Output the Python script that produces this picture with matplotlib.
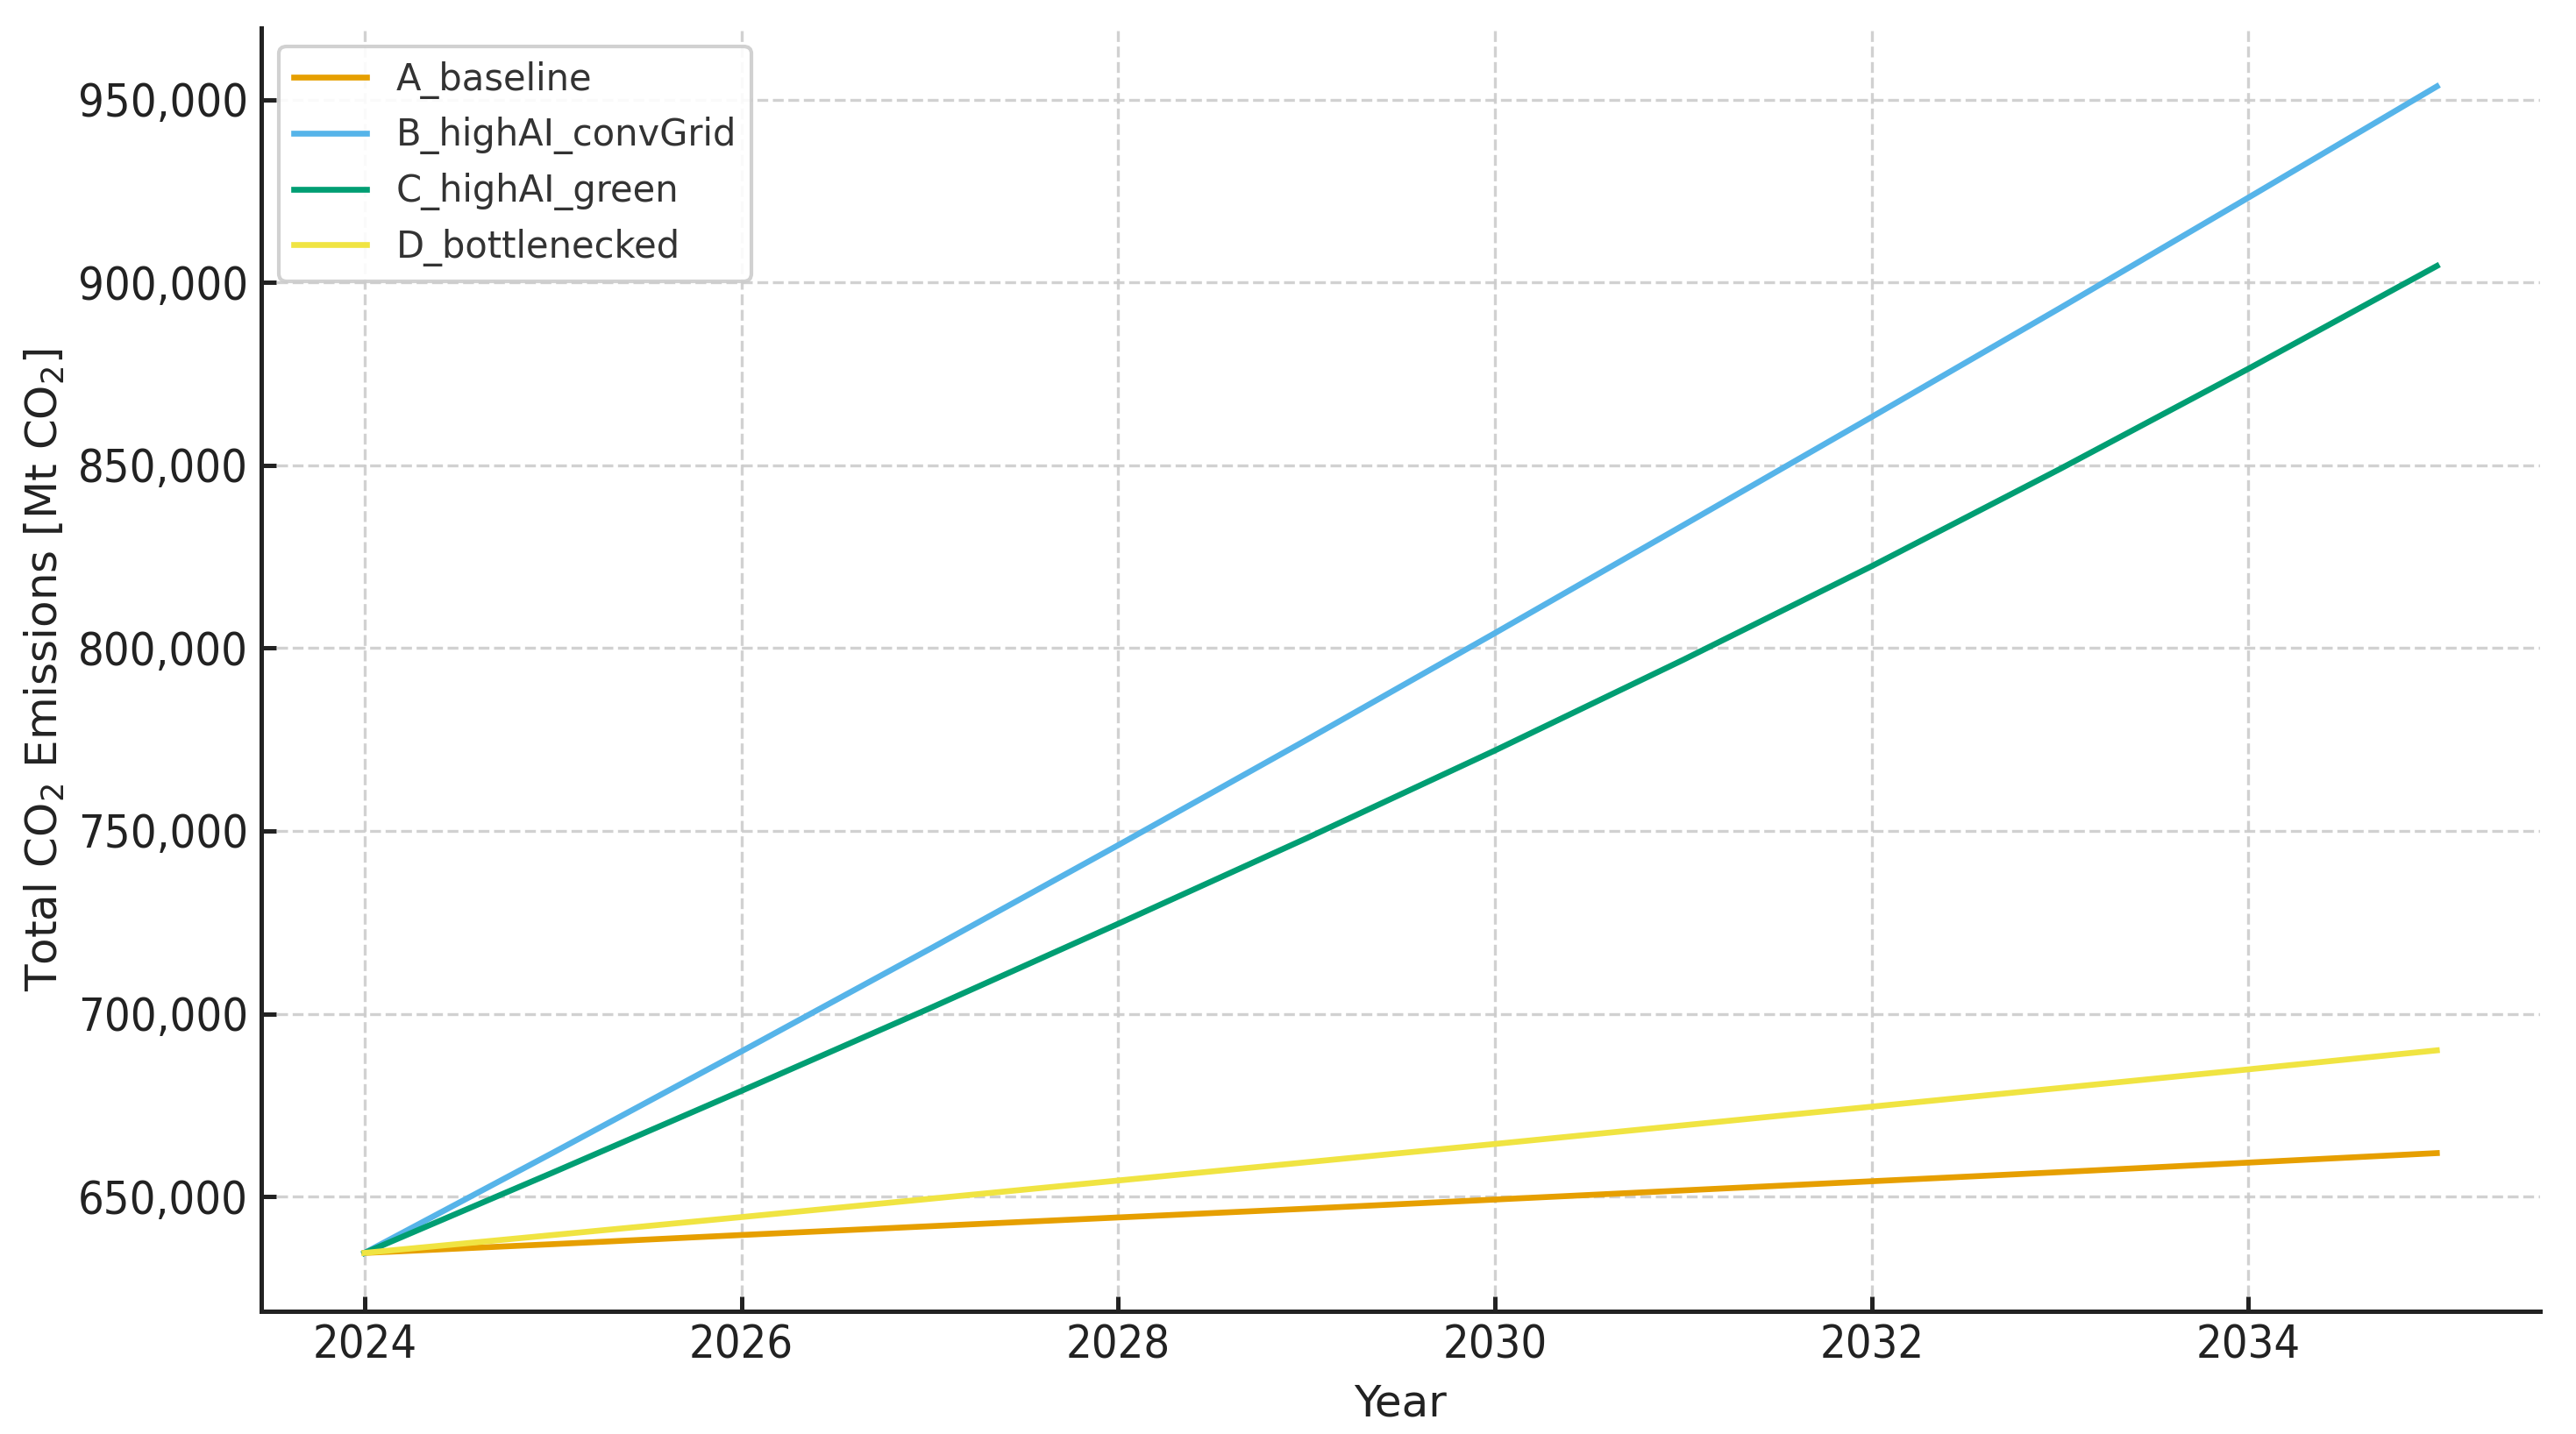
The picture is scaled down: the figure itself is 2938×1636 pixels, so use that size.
import matplotlib
matplotlib.use("Agg")
import matplotlib.pyplot as plt
from matplotlib.ticker import FuncFormatter

years = [2024, 2025, 2026, 2027, 2028, 2029, 2030, 2031, 2032, 2033, 2034, 2035]
a_baseline = [634600, 637000, 639500, 641900, 644300, 646700, 649200, 651700, 654200, 656700, 659300, 661900]
b_highai_convgrid = [634600, 662000, 689700, 717700, 746100, 774900, 804100, 833600, 863200, 893000, 923200, 953600]
c_highai_green = [634600, 656600, 678900, 701500, 724600, 748000, 772000, 796800, 822400, 849000, 876400, 904500]
d_bottlenecked = [634600, 639500, 644400, 649400, 654400, 659400, 664400, 669500, 674600, 679700, 684800, 690000]

series_names = ["A_baseline", "B_highAI_convGrid", "C_highAI_green", "D_bottlenecked"]
series_values = [a_baseline, b_highai_convgrid, c_highai_green, d_bottlenecked]
colors = ["#E69F00", "#56B4E9", "#009E73", "#F0E442"]
xticks = [2024, 2026, 2028, 2030, 2032, 2034]

plt.rcParams["font.family"] = ["DejaVu Sans"]
plt.rcParams["font.size"] = 12

fig = plt.figure(figsize=(2938 / 300, 1636 / 300), dpi=300)
ax = fig.add_axes([0.1013, 0.0856, 0.8849, 0.8948])

for name, vals, c in zip(series_names, series_values, colors):
    ax.plot(years, vals, color=c, lw=1.6, label=name)

ax.set_xlabel("Year", color="#222222")
ax.set_ylabel("Total CO$_2$ Emissions [Mt CO$_2$]", color="#222222", labelpad=3)
ax.yaxis.set_major_formatter(FuncFormatter(lambda v, p: f"{int(round(v)):,}"))
ax.set_xticks(xticks)

ax.grid(True, linestyle="--", color="#cccccc", linewidth=0.8, alpha=0.9)
ax.set_axisbelow(True)
for s in ["top", "right"]:
    ax.spines[s].set_visible(False)
for s in ["left", "bottom"]:
    ax.spines[s].set_color("#222222")
    ax.spines[s].set_linewidth(1.2)
ax.tick_params(direction="in", length=4, width=1.2, colors="#222222", labelsize=12.5)
for lbl in ax.get_xticklabels() + ax.get_yticklabels():
    lbl.set_fontstretch("condensed")

leg = ax.legend(loc="upper left", fontsize=10, frameon=True, fancybox=True,
                framealpha=0.9, edgecolor="#cccccc")
for t in leg.get_texts():
    t.set_color("#333333")

fig.savefig("out.png", dpi=300)
